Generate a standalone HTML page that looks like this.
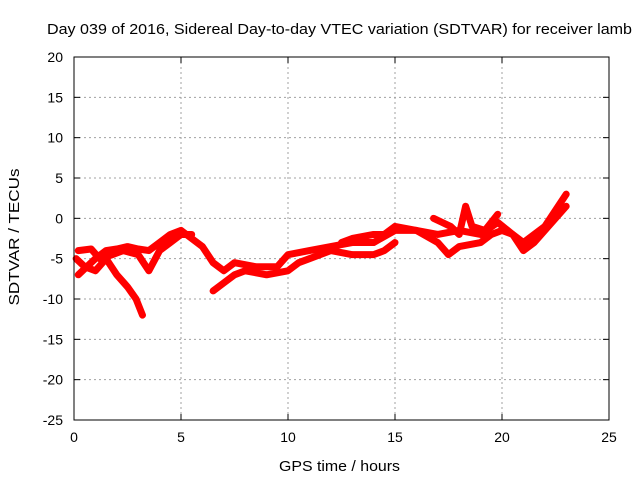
<!DOCTYPE html>
<html><head><meta charset="utf-8"><style>
body{margin:0;background:#fff;width:640px;height:480px;overflow:hidden}
svg{font-family:"Liberation Sans",sans-serif}
</style></head><body>
<svg id="c" width="640" height="480">
<text x="47" y="34" font-size="15" textLength="585" lengthAdjust="spacingAndGlyphs">Day 039 of 2016, Sidereal Day-to-day VTEC variation (SDTVAR) for receiver lamb</text>
<text transform="translate(19,237) rotate(-90)" text-anchor="middle" font-size="15" textLength="137" lengthAdjust="spacingAndGlyphs">SDTVAR / TECUs</text>
<text x="279" y="471" font-size="15" textLength="121" lengthAdjust="spacingAndGlyphs">GPS time / hours</text>
<g id="grid"></g><g id="series"></g>
<rect x="74" y="57" width="535" height="363" fill="none" stroke="#000" stroke-width="1"/>
</svg>
<script>
const xTicks=[0,5,10,15,20,25];
const yTicks=[20,15,10,5,0,-5,-10,-15,-20,-25];
const trackA=[[0.2,-7],[0.6,-6],[1.0,-5],[1.5,-4],[2.0,-3.8],[2.5,-3.5],[3.0,-3.8],[3.5,-4],[4.0,-3],[4.5,-2],[5.0,-1.5],[5.5,-2.5],[6.0,-3.5],[6.5,-5.5],[7.0,-6.5],[7.5,-5.5],[8.5,-6],[9.5,-6],[10.0,-4.5],[11.0,-4],[12.0,-3.5],[13.0,-3],[14.0,-3],[15.0,-1.5],[16.0,-1.5],[17.0,-2],[18.0,-1.5],[19.0,-2],[19.8,-0.5],[20.5,-2],[21.0,-3],[22.0,-1],[22.5,1],[23.0,3]];
const trackB=[[0.1,-5],[0.5,-6],[1.0,-6.5],[1.5,-5],[2.0,-7],[2.5,-8.5],[2.9,-10],[3.2,-12]];
const trackC=[[0.2,-4],[0.8,-3.8],[1.2,-5],[1.8,-4.5],[2.3,-4],[3.0,-4.5],[3.5,-6.5],[4.0,-4],[4.5,-3],[5.0,-2],[5.5,-2]];
const trackD=[[6.5,-9],[7.0,-8],[7.5,-7],[8.0,-6.5],[9.0,-7],[10.0,-6.5],[10.5,-5.5],[11.0,-5],[12.0,-4],[13.0,-4.5],[14.0,-4.5],[14.5,-4],[15.0,-3]];
const trackE=[[12.5,-3],[13.0,-2.5],[14.0,-2],[14.5,-2],[15.0,-1],[16.0,-1.5],[17.0,-3],[17.5,-4.5],[18.0,-3.5],[19.0,-3],[19.5,-2],[20.0,-1.5],[20.5,-2],[21.0,-4],[21.5,-3],[22.0,-1.5],[22.5,0],[23.0,1.5]];
const trackF=[[16.8,0],[17.2,-0.5],[17.6,-1],[18.0,-2],[18.3,1.5],[18.6,-1],[19.2,-1.5],[19.8,0.5]];
const tracks=[trackA,trackB,trackC,trackD,trackE,trackF];
const X=v=>74+v*535/25, Y=v=>57+(20-v)*363/45;
const NS="http://www.w3.org/2000/svg";
const g=document.getElementById('grid'),s=document.getElementById('series');
function mk(t,a,p){const e=document.createElementNS(NS,t);for(const k in a)e.setAttribute(k,a[k]);p.appendChild(e);return e;}
xTicks.forEach(v=>{
 if(v>0&&v<25){const l=mk('line',{x1:X(v),x2:X(v),y1:57,y2:420,stroke:'#a0a0a0','stroke-dasharray':'2,3'},g);
 
 }
 mk('line',{x1:X(v),x2:X(v),y1:420,y2:414,stroke:'#000'},g);
 mk('line',{x1:X(v),x2:X(v),y1:57,y2:63,stroke:'#000'},g);
 const t=mk('text',{x:X(v),y:442,'text-anchor':'middle','font-size':'14'},g);t.textContent=v;
 
 
});
yTicks.forEach(v=>{
 if(v<20&&v>-25){const l=mk('line',{x1:74,x2:609,y1:Y(v),y2:Y(v),stroke:'#a0a0a0','stroke-dasharray':'2,3'},g);
 
 }
 mk('line',{x1:74,x2:80,y1:Y(v),y2:Y(v),stroke:'#000'},g);
 mk('line',{x1:603,x2:609,y1:Y(v),y2:Y(v),stroke:'#000'},g);
 const t=mk('text',{x:63,y:Y(v)+5,'text-anchor':'end','font-size':'14'},g);t.textContent=v;
 
 
});
tracks.forEach(tr=>{
 const p=mk('polyline',{points:tr.map(d=>X(d[0])+','+Y(d[1])).join(' '),fill:'none',stroke:'#f00','stroke-width':7,'stroke-linejoin':'round','stroke-linecap':'round'},s);
 
 
});
</script>
</body></html>
